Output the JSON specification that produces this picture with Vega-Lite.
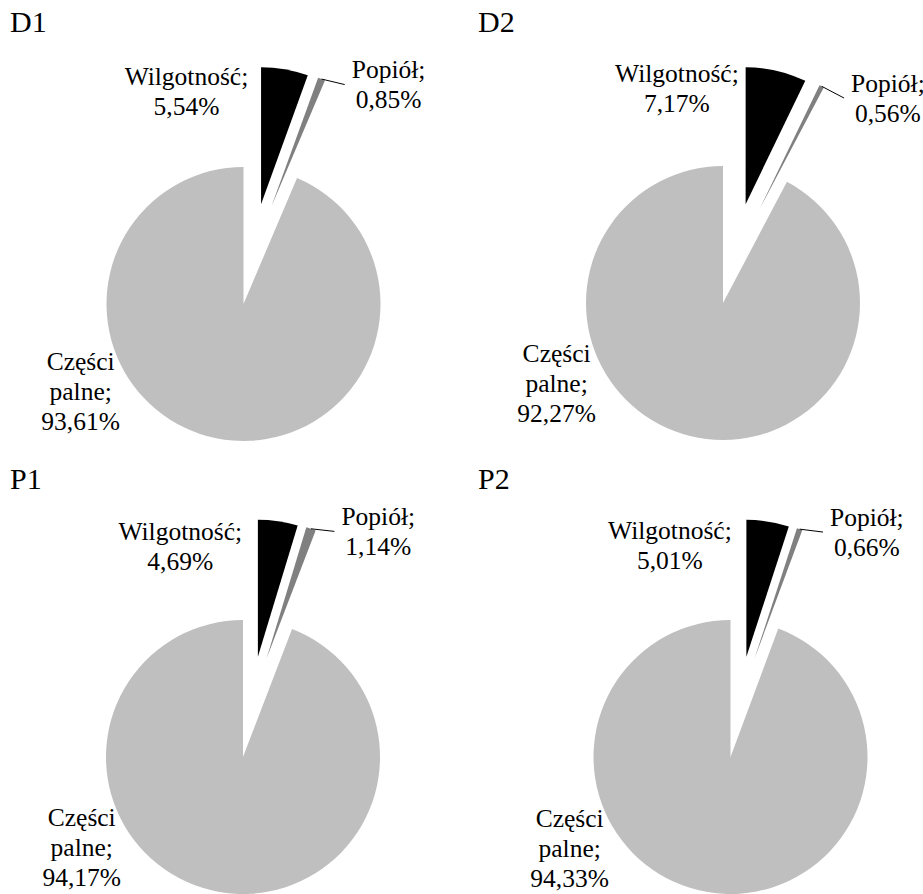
{
  "$schema": "https://vega.github.io/schema/vega-lite/v6.json",
  "background": "white",
  "padding": {"left": 10, "top": 8, "right": 0, "bottom": 0},
  "data": {
    "values": [
      {"panel": "D1", "cat": "Wilgotność", "value": 5.54},
      {"panel": "D1", "cat": "Popiół", "value": 0.85},
      {"panel": "D1", "cat": "Części palne", "value": 93.61},
      {"panel": "D2", "cat": "Wilgotność", "value": 7.17},
      {"panel": "D2", "cat": "Popiół", "value": 0.56},
      {"panel": "D2", "cat": "Części palne", "value": 92.27},
      {"panel": "P1", "cat": "Wilgotność", "value": 4.69},
      {"panel": "P1", "cat": "Popiół", "value": 1.14},
      {"panel": "P1", "cat": "Części palne", "value": 94.17},
      {"panel": "P2", "cat": "Wilgotność", "value": 5.01},
      {"panel": "P2", "cat": "Popiół", "value": 0.66},
      {"panel": "P2", "cat": "Części palne", "value": 94.33}
    ]
  },
  "transform": [
    {"stack": "value", "groupby": ["panel"], "sort": [{"field": "cat", "order": "descending"}], "as": ["v0", "v1"]},
    {"calculate": "PI*(datum.v0+datum.v1)/100", "as": "a"},
    {"calculate": "datum.a - (datum.cat == 'Popiół' ? 5.5 : 0)*PI/180", "as": "ea"},
    {"calculate": "datum.cat == 'Części palne' ? 0 : 0.74*sin(datum.ea)", "as": "ex"},
    {"calculate": "datum.cat == 'Części palne' ? 0 : 0.74*cos(datum.ea)", "as": "ey"},
    {"calculate": "datum.a + (datum.cat == 'Wilgotność' ? -25 : datum.cat == 'Popiół' ? 12 : 50.2)*PI/180", "as": "la"},
    {"calculate": "datum.cat == 'Wilgotność' ? 1.606 : datum.cat == 'Popiół' ? 1.92 : 1.35", "as": "lr"},
    {"calculate": "datum.lr*sin(datum.la)", "as": "lx"},
    {"calculate": "datum.lr*cos(datum.la)", "as": "ly"},
    {"calculate": "datum.ly + ((datum.cat == 'Części palne' ? 2 : 1)*15 - 0.75)/137", "as": "ty"},
    {"calculate": "datum.ex + sin(datum.a)", "as": "px"},
    {"calculate": "datum.ey + cos(datum.a)", "as": "py"},
    {"calculate": "datum.lx - 0.32", "as": "qx"},
    {"calculate": "replace(datum.cat, ' ', '\\n') + ';\\n' + replace(format(datum.value, '.2f'), '.', ',') + '%'", "as": "label"}
  ],
  "spacing": 0,
  "vconcat": [
    {
      "spacing": 0,
      "hconcat": [
        {
          "title": "D1",
          "width": 468, "height": 423,
          "transform": [{"filter": "datum.panel == 'D1'"}],
          "encoding": {
            "x": {"field": "ex", "type": "quantitative", "axis": null, "scale": {"domain": [-1.7044, 1.7117], "nice": false, "zero": false}},
            "y": {"field": "ey", "type": "quantitative", "axis": null, "scale": {"domain": [-1.1752, 1.9124], "nice": false, "zero": false}}
          },
          "layer": [
            {"mark": {"type": "arc", "radius": 137},
             "encoding": {
               "theta": {"field": "v0", "type": "quantitative", "scale": {"domain": [0, 100], "range": [0, 6.283185307179586]}},
               "theta2": {"field": "v1"},
               "color": {"field": "cat", "type": "nominal", "legend": null, "scale": {"domain": ["Wilgotność", "Popiół", "Części palne"], "range": ["#000000", "#808080", "#BFBFBF"]}}
             }},
            {"transform": [{"filter": "datum.cat == 'Popiół'"}],
             "mark": {"type": "rule", "color": "black", "strokeWidth": 1},
             "encoding": {"x": {"field": "px", "type": "quantitative"}, "y": {"field": "py", "type": "quantitative"}, "x2": {"field": "qx"}, "y2": {"field": "ly"}}},
            {"mark": {"type": "text", "font": "Liberation Serif", "fontSize": 25.5, "lineHeight": 30, "lineBreak": "\n", "align": "center", "baseline": "middle", "color": "black"},
             "encoding": {"x": {"field": "lx", "type": "quantitative"}, "y": {"field": "ty", "type": "quantitative"}, "text": {"field": "label"}}}
          ]
        },
        {
          "title": "D2",
          "width": 445, "height": 423,
          "transform": [{"filter": "datum.panel == 'D2'"}],
          "encoding": {
            "x": {"field": "ex", "type": "quantitative", "axis": null, "scale": {"domain": [-1.7883, 1.4599], "nice": false, "zero": false}},
            "y": {"field": "ey", "type": "quantitative", "axis": null, "scale": {"domain": [-1.1825, 1.9051], "nice": false, "zero": false}}
          },
          "layer": [
            {"mark": {"type": "arc", "radius": 137},
             "encoding": {
               "theta": {"field": "v0", "type": "quantitative", "scale": {"domain": [0, 100], "range": [0, 6.283185307179586]}},
               "theta2": {"field": "v1"},
               "color": {"field": "cat", "type": "nominal", "legend": null, "scale": {"domain": ["Wilgotność", "Popiół", "Części palne"], "range": ["#000000", "#808080", "#BFBFBF"]}}
             }},
            {"transform": [{"filter": "datum.cat == 'Popiół'"}],
             "mark": {"type": "rule", "color": "black", "strokeWidth": 1},
             "encoding": {"x": {"field": "px", "type": "quantitative"}, "y": {"field": "py", "type": "quantitative"}, "x2": {"field": "qx"}, "y2": {"field": "ly"}}},
            {"mark": {"type": "text", "font": "Liberation Serif", "fontSize": 25.5, "lineHeight": 30, "lineBreak": "\n", "align": "center", "baseline": "middle", "color": "black"},
             "encoding": {"x": {"field": "lx", "type": "quantitative"}, "y": {"field": "ty", "type": "quantitative"}, "text": {"field": "label"}}}
          ]
        }
      ]
    },
    {
      "spacing": 0,
      "hconcat": [
        {
          "title": "P1",
          "width": 468, "height": 397,
          "transform": [{"filter": "datum.panel == 'P1'"}],
          "encoding": {
            "x": {"field": "ex", "type": "quantitative", "axis": null, "scale": {"domain": [-1.7007, 1.7153], "nice": false, "zero": false}},
            "y": {"field": "ey", "type": "quantitative", "axis": null, "scale": {"domain": [-1.0146, 1.8832], "nice": false, "zero": false}}
          },
          "layer": [
            {"mark": {"type": "arc", "radius": 137},
             "encoding": {
               "theta": {"field": "v0", "type": "quantitative", "scale": {"domain": [0, 100], "range": [0, 6.283185307179586]}},
               "theta2": {"field": "v1"},
               "color": {"field": "cat", "type": "nominal", "legend": null, "scale": {"domain": ["Wilgotność", "Popiół", "Części palne"], "range": ["#000000", "#808080", "#BFBFBF"]}}
             }},
            {"transform": [{"filter": "datum.cat == 'Popiół'"}],
             "mark": {"type": "rule", "color": "black", "strokeWidth": 1},
             "encoding": {"x": {"field": "px", "type": "quantitative"}, "y": {"field": "py", "type": "quantitative"}, "x2": {"field": "qx"}, "y2": {"field": "ly"}}},
            {"mark": {"type": "text", "font": "Liberation Serif", "fontSize": 25.5, "lineHeight": 30, "lineBreak": "\n", "align": "center", "baseline": "middle", "color": "black"},
             "encoding": {"x": {"field": "lx", "type": "quantitative"}, "y": {"field": "ty", "type": "quantitative"}, "text": {"field": "label"}}}
          ]
        },
        {
          "title": "P2",
          "width": 445, "height": 397,
          "transform": [{"filter": "datum.panel == 'P2'"}],
          "encoding": {
            "x": {"field": "ex", "type": "quantitative", "axis": null, "scale": {"domain": [-1.8431, 1.4051], "nice": false, "zero": false}},
            "y": {"field": "ey", "type": "quantitative", "axis": null, "scale": {"domain": [-1.0146, 1.8832], "nice": false, "zero": false}}
          },
          "layer": [
            {"mark": {"type": "arc", "radius": 137},
             "encoding": {
               "theta": {"field": "v0", "type": "quantitative", "scale": {"domain": [0, 100], "range": [0, 6.283185307179586]}},
               "theta2": {"field": "v1"},
               "color": {"field": "cat", "type": "nominal", "legend": null, "scale": {"domain": ["Wilgotność", "Popiół", "Części palne"], "range": ["#000000", "#808080", "#BFBFBF"]}}
             }},
            {"transform": [{"filter": "datum.cat == 'Popiół'"}],
             "mark": {"type": "rule", "color": "black", "strokeWidth": 1},
             "encoding": {"x": {"field": "px", "type": "quantitative"}, "y": {"field": "py", "type": "quantitative"}, "x2": {"field": "qx"}, "y2": {"field": "ly"}}},
            {"mark": {"type": "text", "font": "Liberation Serif", "fontSize": 25.5, "lineHeight": 30, "lineBreak": "\n", "align": "center", "baseline": "middle", "color": "black"},
             "encoding": {"x": {"field": "lx", "type": "quantitative"}, "y": {"field": "ty", "type": "quantitative"}, "text": {"field": "label"}}}
          ]
        }
      ]
    }
  ],
  "config": {
    "view": {"stroke": null},
    "title": {"font": "Liberation Serif", "fontSize": 30, "fontWeight": "normal", "anchor": "start", "frame": "group", "color": "black", "offset": 0}
  }
}
